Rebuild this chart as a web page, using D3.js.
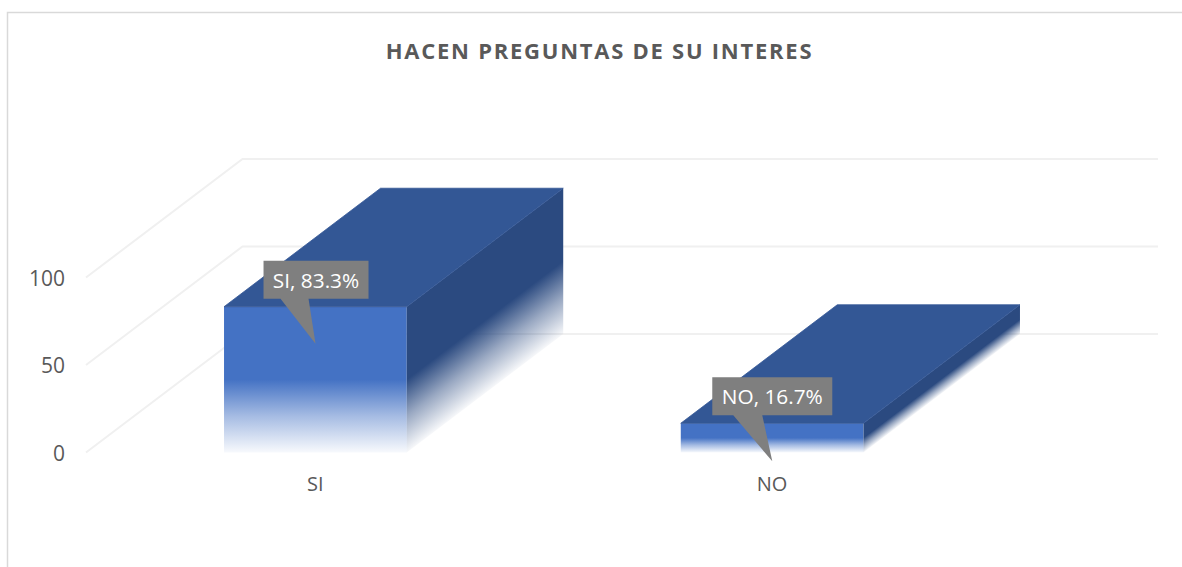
<!DOCTYPE html>
<html><head><meta charset="utf-8">
<script src="https://cdn.jsdelivr.net/npm/d3@7"></script>
<style>html,body{margin:0;padding:0;background:#fff}svg{display:block}text{font-family:"Open Sans",sans-serif}</style>
</head><body><svg id="c" width="1182" height="567"></svg>
<script>
const title = "HACEN PREGUNTAS DE SU INTERES";
const categories = ["SI","NO"];
const values = [83.3,16.7];
const valueLabels = ["SI, 83.3%","NO, 16.7%"];
const yTicks = [0,50,100];
const yTickLabels = ["0","50","100"];

const svg = d3.select("#c");
const defs = svg.append("defs");
const y = d3.scaleLinear().domain([0,100]).range([452.5,277.5]);
const x = d3.scaleBand().domain(categories).range([87,1000.5]).paddingInner(0.6).paddingOuter(0.3);
const depthX = 156.5, depthY = -118.5;
const gridLeft = 86, gridRight = 1158;

svg.append("rect").attr("x",7.5).attr("y",12.5).attr("width",1200).attr("height",590)
  .attr("fill","#fff").attr("stroke","#D9D9D9").attr("stroke-width",1.5);

svg.append("text").attr("x",599.5).attr("y",58.5).attr("text-anchor","middle")
  .attr("font-size",22).attr("font-weight",700).attr("letter-spacing",1.75).attr("fill","#595959").text(title);

yTicks.forEach(v=>{
  const y0=y(v);
  svg.append("path").attr("fill","none").attr("stroke","#F0F0F0").attr("stroke-width",2)
    .attr("d",d3.line()([[gridLeft,y0],[gridLeft+depthX,y0+depthY],[gridRight,y0+depthY]]));
});

yTickLabels.forEach((t,i)=>{
  svg.append("text").attr("x",65).attr("y",y(yTicks[i])+8).attr("text-anchor","end")
    .attr("font-size",21).attr("fill","#595959").text(t);
});

categories.forEach((c,i)=>{
  const v = values[i], x0=x(c), x1=x0+x.bandwidth(), top=y(v), bot=y(0);
  const fadeStops = (g,col)=>{
    g.append("stop").attr("offset","0").attr("stop-color",col);
    g.append("stop").attr("offset","0.5").attr("stop-color",col);
    g.append("stop").attr("offset","0.75").attr("stop-color",col).attr("stop-opacity",0.48);
    g.append("stop").attr("offset","1").attr("stop-color",col).attr("stop-opacity",0.04);
  };
  const gf = defs.append("linearGradient").attr("id","front"+i).attr("gradientUnits","userSpaceOnUse")
    .attr("x1",0).attr("x2",0).attr("y1",top).attr("y2",bot);
  fadeStops(gf,"#4472C4");
  const h=bot-top;
  const nx=-depthY, ny=depthX;
  const k=h*ny/(nx*nx+ny*ny);
  const gs = defs.append("linearGradient").attr("id","side"+i).attr("gradientUnits","userSpaceOnUse")
    .attr("x1",x1).attr("y1",top).attr("x2",x1+nx*k).attr("y2",top+ny*k);
  fadeStops(gs,"#2B4A80");

  svg.append("path").attr("fill","url(#front"+i+")")
    .attr("d",d3.line()([[x0,top],[x1,top],[x1,bot],[x0,bot]])+"Z");
  svg.append("path").attr("fill","url(#side"+i+")")
    .attr("d",d3.line()([[x1,top],[x1+depthX,top+depthY],[x1+depthX,bot+depthY],[x1,bot]])+"Z");
  svg.append("path").attr("fill","#335795").attr("stroke","#335795").attr("stroke-width",0.8)
    .attr("d",d3.line()([[x0,top],[x0+depthX,top+depthY],[x1+depthX,top+depthY],[x1,top]])+"Z");

  svg.append("text").attr("x",(x0+x1)/2).attr("y",bot+38).attr("text-anchor","middle")
    .attr("font-size",20).attr("fill","#595959").text(c);
});

const calloutW=[105,120];
const calloutTail=[[17,45,52,45],[21,50,60,46]];
categories.forEach((c,i)=>{
  const rx=x(c)+(i===0?39.5:31.5), ry=y(values[i])-46;
  const [a,b,tx,ty]=calloutTail[i];
  const rh=38, w=calloutW[i];
  svg.append("path").attr("fill","#7F7F7F")
    .attr("d",d3.line()([[rx,ry],[rx+w,ry],[rx+w,ry+rh],[rx+b,ry+rh],[rx+tx,ry+rh+ty],[rx+a,ry+rh],[rx,ry+rh]])+"Z");
  svg.append("text").attr("x",rx+w/2).attr("y",ry+27).attr("text-anchor","middle")
    .attr("font-size",20.8).attr("fill","#fff").text(valueLabels[i]);
});
</script></body></html>
